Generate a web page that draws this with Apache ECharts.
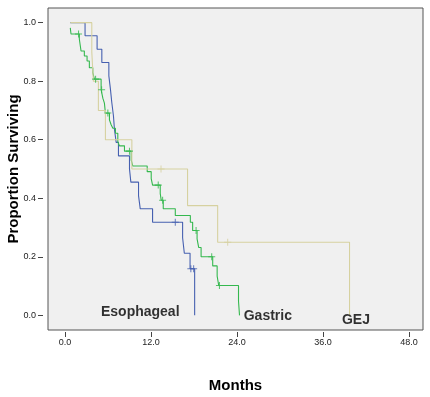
<!DOCTYPE html>
<html>
<head>
<meta charset="utf-8">
<script src="https://cdn.jsdelivr.net/npm/echarts@6/dist/echarts.min.js"></script>
<style>
html,body{margin:0;padding:0;background:#fff;}
#c{width:430px;height:397px;}
</style>
</head>
<body>
<div id="c"></div>
<script>
const xTicks = [0, 12, 24, 36, 48];
const yTicks = [0, 0.2, 0.4, 0.6, 0.8, 1.0];

const groupNames = ['Esophageal', 'Gastric', 'GEJ'];
const groupColors = ['#4660B0', '#34B84E', '#D6D1A0'];

const esoTime = [0.74, 2.80, 4.48, 5.14, 6.12, 6.34, 6.53, 6.76, 6.90, 7.14, 7.46, 9.00, 9.19, 10.26, 10.50, 12.22, 16.41, 16.65, 17.45, 18.09];
const esoSurv = [1.0, 0.955, 0.909, 0.864, 0.818, 0.773, 0.727, 0.682, 0.636, 0.591, 0.545, 0.500, 0.455, 0.409, 0.364, 0.318, 0.265, 0.212, 0.159, 0];
const esoCensor = [15.39, 17.56, 17.95];

const gasTime = [0.74, 0.84, 2.00, 2.24, 2.70, 3.08, 3.40, 3.88, 4.10, 5.04, 5.28, 5.50, 5.64, 6.20, 6.44, 6.68, 7.04, 7.37, 7.60, 8.30, 9.24, 9.47, 11.47, 12.03, 12.22, 13.29, 13.43, 13.71, 15.39, 17.49, 17.81, 18.43, 18.65, 18.99, 20.61, 21.23, 21.45, 24.21, 24.35];
const gasSurv = [0.982, 0.961, 0.944, 0.903, 0.886, 0.869, 0.846, 0.829, 0.807, 0.771, 0.742, 0.725, 0.691, 0.668, 0.651, 0.639, 0.622, 0.593, 0.579, 0.561, 0.530, 0.510, 0.491, 0.467, 0.445, 0.416, 0.393, 0.364, 0.341, 0.318, 0.290, 0.261, 0.232, 0.200, 0.169, 0.134, 0.102, 0.048, 0];
const gasCensor = [1.89, 4.27, 5.11, 5.98, 9.00, 13.01, 13.62, 18.29, 20.47, 21.55];

const gejTime = [0.74, 3.74, 3.96, 4.66, 5.64, 9.33, 17.10, 21.30, 39.70];
const gejSurv = [1.0, 0.9, 0.8, 0.7, 0.6, 0.5, 0.375, 0.25, 0];
const gejCensor = [13.4, 22.7];

const labelTime = [10.5, 28.3, 40.6];
const labelSurv = [0.01, -0.003, -0.017];

function pairs(t, s) { return t.map((v, i) => [v, s[i]]); }
function levelAt(t, s, x) {
  let v = s[0];
  for (let i = 0; i < t.length; i++) { if (t[i] <= x) v = s[i]; }
  return v;
}
function censorPts(t, s, c) { return c.map(x => [x, levelAt(t, s, x)]); }

const plusPath = 'path://M-0.6,-4 L0.6,-4 L0.6,4 L-0.6,4 Z M-4,-0.6 L4,-0.6 L4,0.6 L-4,0.6 Z';

const groups = [
  [esoTime, esoSurv, esoCensor],
  [gasTime, gasSurv, gasCensor],
  [gejTime, gejSurv, gejCensor]
];

const series = [];
groups.forEach((g, i) => {
  series.push({
    type: 'line', name: groupNames[i], step: 'end', data: pairs(g[0], g[1]),
    symbol: 'none', lineStyle: { color: groupColors[i], width: 1.1 }, z: 2 + i, animation: false
  });
});
groups.forEach((g, i) => {
  series.push({
    type: 'scatter', name: groupNames[i] + ' censored', data: censorPts(g[0], g[1], g[2]),
    symbol: plusPath, symbolSize: 7, itemStyle: { color: groupColors[i] }, z: 5 + i, animation: false
  });
});
series.push({
  type: 'scatter', name: 'labels',
  data: labelTime.map((t, i) => ({ value: [t, labelSurv[i]], name: groupNames[i] })),
  symbolSize: 1, itemStyle: { color: 'rgba(0,0,0,0)' },
  label: { show: true, position: 'inside', formatter: p => p.name, color: '#000', fontWeight: 'bold', fontSize: 14, fontFamily: 'Liberation Sans, Arial, sans-serif' },
  z: 10, animation: false
});

const chart = echarts.init(document.getElementById('c'), null, { renderer: 'canvas' });
chart.setOption({
  backgroundColor: '#ffffff',
  animation: false,
  grid: { left: 48, top: 8, right: 7, bottom: 67, show: true, backgroundColor: '#f0f0f0', borderColor: '#555', borderWidth: 1, containLabel: false, outerBoundsMode: 'none' },
  xAxis: {
    type: 'value', min: -2.37, max: 49.95, offset: 2,
    name: 'Months', nameLocation: 'middle', nameGap: 46, nameMoveOverlap: false,
    nameTextStyle: { fontWeight: 'bold', fontSize: 15, color: '#000', fontFamily: 'Liberation Sans, Arial, sans-serif' },
    axisLine: { show: false, onZero: false },
    axisTick: { show: true, length: 5, customValues: xTicks, lineStyle: { color: '#444' } },
    axisLabel: { customValues: xTicks, formatter: v => v.toFixed(1), fontSize: 9, color: '#222', margin: 6, fontFamily: 'Liberation Sans, Arial, sans-serif' },
    splitLine: { show: false }
  },
  yAxis: {
    type: 'value', min: -0.05, max: 1.05, offset: 5,
    name: 'Proportion Surviving', nameLocation: 'middle', nameGap: 22, nameMoveOverlap: false,
    nameTextStyle: { fontWeight: 'bold', fontSize: 15, color: '#000', fontFamily: 'Liberation Sans, Arial, sans-serif' },
    axisLine: { show: false, onZero: false },
    axisTick: { show: true, length: 5, customValues: yTicks, lineStyle: { color: '#444' } },
    axisLabel: { customValues: yTicks, formatter: v => v.toFixed(1), fontSize: 9, color: '#222', margin: 7, fontFamily: 'Liberation Sans, Arial, sans-serif' },
    splitLine: { show: false }
  },
  series: series
});
</script>
</body>
</html>
